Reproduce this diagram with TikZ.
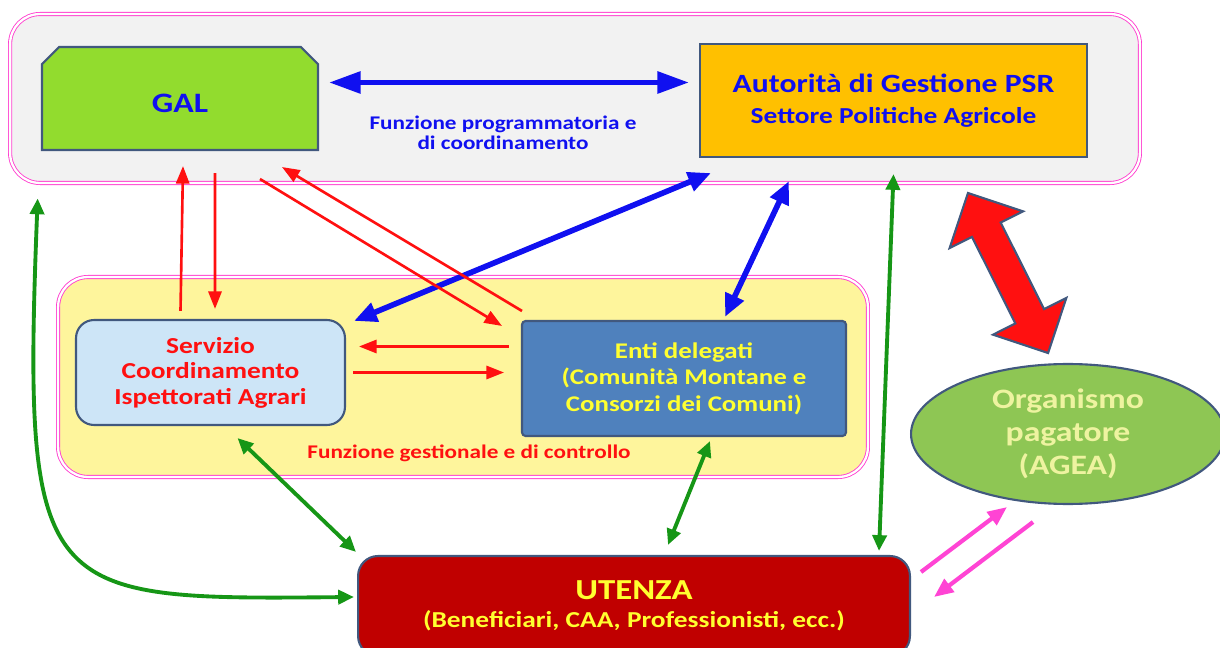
\documentclass[tikz,border=0pt]{standalone}
\usepackage{fontspec}
\setmainfont{Carlito}[FakeStretch=1.2]
\usetikzlibrary{arrows.meta,calc,shapes.misc,shapes.arrows,shapes.geometric}
\definecolor{psrgray}{HTML}{F2F2F2}
\definecolor{psryellow}{HTML}{FEF59C}
\definecolor{psrpink}{HTML}{FF3FCF}
\definecolor{psrframe}{HTML}{41587E}
\definecolor{psrlime}{HTML}{92DC2E}
\definecolor{psrorange}{HTML}{FFC000}
\definecolor{psrlblue}{HTML}{CDE5F7}
\definecolor{psrsteel}{HTML}{4F81BD}
\definecolor{psrdark}{HTML}{C00000}
\definecolor{psrolive}{HTML}{8EC654}
\definecolor{psrblue}{HTML}{1010F0}
\definecolor{psrred}{HTML}{FF1010}
\definecolor{psrgreen}{HTML}{169616}
\definecolor{psrmagenta}{HTML}{FF44D4}
\definecolor{psrtxt}{HTML}{FFFF30}
\definecolor{psrpale}{HTML}{EEF3A0}

\begin{document}
\begin{tikzpicture}[x=0.02cm,y=-0.02cm,font=\bfseries,
  box/.style={draw=psrframe,line width=1.2pt,inner sep=0pt,align=center},
  panel/.style={draw=psrpink,double=white,double distance=1.3pt,line width=0.5pt,rounded corners=0.6cm,inner sep=0pt},
  redarr/.style={psrred,line width=1.5pt,-{Triangle[length=10pt,width=7.5pt]}},
  bluearr/.style={psrblue,line width=3.2pt,{Triangle[length=13pt,width=11pt]}-{Triangle[length=13pt,width=11pt]}},
  greenarr/.style={psrgreen,line width=2.2pt,{Triangle[length=9pt,width=8pt]}-{Triangle[length=9pt,width=8pt]}},
  pinkarr/.style={psrmagenta,line width=2.4pt,-{Triangle[length=11pt,width=9pt]}}]
  \useasboundingbox (0,0) rectangle (1220,648);
  \node[panel,fill=psrgray,minimum width=22.6cm,minimum height=3.38cm] (topbox) at (575,98.5) {};
  \node[panel,fill=psryellow,minimum width=16.2cm,minimum height=4cm] (midbox) at (463,377) {};

  \node[box,chamfered rectangle,chamfered rectangle corners={north west,north east},
    chamfered rectangle xsep=0.44cm,chamfered rectangle ysep=0.34cm,fill=psrlime,
    minimum width=5.52cm,minimum height=2.06cm,text=psrblue,
    font=\bfseries\fontsize{16}{19}\selectfont] (gal) at (180,98.5) {\raisebox{-8pt}[0pt][0pt]{GAL}};
  \node[box,fill=psrorange,minimum width=7.74cm,minimum height=2.26cm,text=psrblue] (adg) at (893.5,100.5)
    {{\fontsize{15}{17}\selectfont Autorità di Gestione PSR}\\[6pt]{\fontsize{13}{15}\selectfont Settore Politiche Agricole}};
  \node[box,rounded corners=0.36cm,fill=psrlblue,minimum width=5.38cm,minimum height=2.1cm,text=psrred,
    font=\bfseries\fontsize{13}{14.5}\selectfont] (sci) at (210.5,372.5) {Servizio\\Coordinamento\\Ispettorati Agrari};
  \node[box,rounded corners=2pt,fill=psrsteel,minimum width=6.48cm,minimum height=2.3cm,text=psrtxt,
    font=\bfseries\fontsize{12.75}{15}\selectfont] (enti) at (684,378.5) {Enti delegati\\(Comunità Montane e\\Consorzi dei Comuni)};
  \node[box,rounded corners=0.4cm,fill=psrdark,minimum width=11.04cm,minimum height=2cm,text=psrtxt] (utenza) at (634,606)
    {{\fontsize{16.5}{18}\selectfont UTENZA}\\[4pt]{\fontsize{13}{15}\selectfont (Beneficiari, CAA, Professionisti, ecc.)}};
  \node[box,ellipse,fill=psrolive,minimum width=6.28cm,minimum height=2.8cm,text=psrpale,
    font=\bfseries\fontsize{16}{18.9}\selectfont] (opag) at (1068,434) {Organismo\\pagatore\\(AGEA)};

  \node[text=psrblue,align=center,font=\bfseries\fontsize{11}{11.5}\selectfont] (fprog) at (503,133)
    {Funzione programmatoria e\\di coordinamento};
  \node[text=psrred,font=\bfseries\fontsize{11}{13}\selectfont] (fgest) at (469,453) {Funzione gestionale e di controllo};

  \draw[bluearr,{Triangle[length=18pt,width=12pt]}-{Triangle[length=18pt,width=12pt]}]
    ($(gal.east)+(10,-16)$) -- ($(adg.west)+(-10,-18)$);
  \draw[bluearr] ($(adg.south west)+(12,15)$) -- ($(sci.north east)+(8,2)$);
  \draw[bluearr] ($(adg.south west)+(90,23)$) -- ($(enti.north)+(41,-3)$);

  \draw[redarr] ($(sci.north)+(-30,-8)$) -- ($(gal.south)+(3,15)$);
  \draw[redarr] ($(gal.south)+(35,22)$) -- ($(sci.north)+(4.5,-10)$);
  \draw[redarr] ($(gal.south)+(80,28)$) -- ($(enti.north west)+(-19,6)$);
  \draw[redarr] ($(enti.north west)+(1,-9)$) -- ($(gal.south)+(102,16)$);
  \draw[redarr] ($(enti.west)+(-12,-32)$) -- ($(sci.east)+(13,-26)$);
  \draw[redarr] ($(sci.east)+(7,0)$) -- ($(enti.west)+(-17,-6)$);

  \draw[greenarr] ($(adg.south)+(0,16)$) -- ($(utenza.north east)+(-32,-4)$);
  \draw[greenarr] ($(sci.south)+(27,12)$) -- ($(utenza.north west)+(-1,-3)$);
  \draw[greenarr] ($(enti.south)+(26,4)$) -- ($(utenza.north)+(34,-10)$);
  \draw[greenarr] ($(topbox.south west)+(28,15)$) .. controls (22,600) and (40,600) .. ($(utenza.west)+(-3,-9)$);

  \node[draw=psrframe,line width=1.2pt,fill=psrred,double arrow,double arrow head extend=0.5cm,
    minimum height=3.58cm,minimum width=1.6cm,inner sep=0.3cm,rotate=-63.4] (payarr) at (1008,273) {};

  \draw[pinkarr] ($(utenza.east)+(10,-34)$) -- ($(opag.south)+(-61,2)$);
  \draw[pinkarr] ($(opag.south)+(-35,17)$) -- ($(utenza.east)+(23,-9)$);
\end{tikzpicture}
\end{document}
